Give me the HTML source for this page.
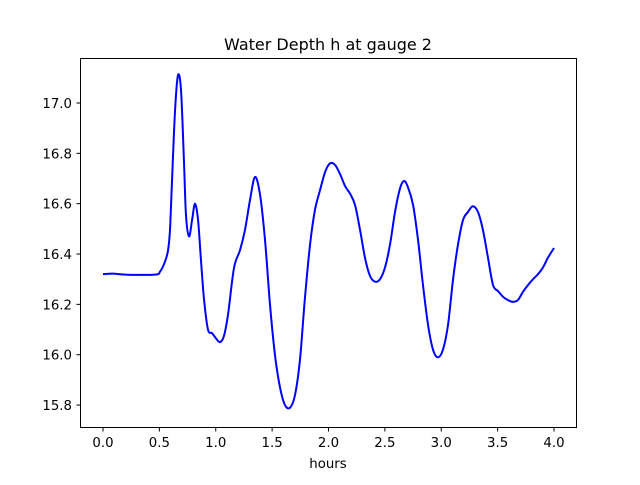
<!DOCTYPE html>
<html><head><meta charset="utf-8"><style>
body{margin:0;background:#fff}
svg text{font-family:"DejaVu Sans","Liberation Sans",sans-serif;fill:#000}
</style></head><body>
<svg id="chart" width="640" height="480" viewBox="0 0 640 480" xmlns="http://www.w3.org/2000/svg">
<rect width="640" height="480" fill="#fff"/>
<text x="328" y="50" font-size="16" text-anchor="middle">Water Depth h at gauge 2</text>
<g id="ticks"></g>
<path id="series" fill="none" stroke="#0000ff" stroke-width="2" stroke-linejoin="round"/>
<rect x="80.5" y="58.5" width="496" height="369" fill="none" stroke="#000" stroke-width="1"/>
<text x="328" y="468" font-size="13.3" text-anchor="middle">hours</text>
</svg>
<script>
const hours=[0,0.09,0.2,0.46,0.506,0.55,0.577,0.594,0.612,0.639,0.665,0.692,0.718,0.736,0.763,0.79,0.816,0.843,0.869,0.896,0.931,0.967,1.0,1.038,1.073,1.109,1.162,1.215,1.259,1.304,1.348,1.393,1.437,1.481,1.525,1.57,1.614,1.66,1.703,1.747,1.79,1.836,1.88,1.925,1.97,2.013,2.058,2.102,2.147,2.191,2.235,2.28,2.324,2.368,2.413,2.457,2.5,2.545,2.59,2.634,2.67,2.705,2.75,2.794,2.838,2.883,2.927,2.97,3.015,3.06,3.104,3.148,3.193,3.237,3.28,3.326,3.37,3.415,3.459,3.503,3.548,3.592,3.636,3.68,3.725,3.77,3.814,3.858,3.9,3.946,4.0];
const depth=[16.32,16.322,16.318,16.318,16.33,16.37,16.415,16.495,16.69,16.97,17.11,17.05,16.77,16.555,16.47,16.535,16.6,16.535,16.375,16.22,16.1,16.086,16.066,16.05,16.075,16.16,16.345,16.415,16.495,16.615,16.706,16.635,16.455,16.2,16.0,15.87,15.8,15.79,15.84,15.98,16.22,16.436,16.575,16.654,16.726,16.76,16.754,16.718,16.67,16.64,16.595,16.495,16.384,16.313,16.29,16.3,16.345,16.436,16.567,16.66,16.69,16.665,16.595,16.456,16.277,16.118,16.02,15.99,16.02,16.118,16.297,16.436,16.535,16.567,16.59,16.567,16.495,16.384,16.277,16.253,16.23,16.217,16.21,16.217,16.25,16.277,16.3,16.32,16.345,16.385,16.424];
const xTicks=[0,0.5,1,1.5,2,2.5,3,3.5,4];
const xTickLabels=["0.0","0.5","1.0","1.5","2.0","2.5","3.0","3.5","4.0"];
const yTicks=[15.8,16.0,16.2,16.4,16.6,16.8,17.0];
const yTickLabels=["15.8","16.0","16.2","16.4","16.6","16.8","17.0"];

function xs(t){return 103+t*112.75;}
function ys(h){return 103+(17-h)*251.7;}
const NS="http://www.w3.org/2000/svg";
const g=document.getElementById('ticks');
xTicks.forEach((t,i)=>{
  const l=document.createElementNS(NS,'line');
  
  
  l.setAttribute('x1',xs(t));l.setAttribute('x2',xs(t));l.setAttribute('y1',427.5);l.setAttribute('y2',431.5);l.setAttribute('stroke','#000');
  g.appendChild(l);
  const tx=document.createElementNS(NS,'text');
  
  
  tx.setAttribute('x',xs(t));tx.setAttribute('y',447);tx.setAttribute('font-size','13.3');tx.setAttribute('text-anchor','middle');
  tx.textContent=xTickLabels[i];g.appendChild(tx);
});
yTicks.forEach((h,i)=>{
  const l=document.createElementNS(NS,'line');
  
  
  l.setAttribute('x1',76.5);l.setAttribute('x2',80.5);l.setAttribute('y1',ys(h));l.setAttribute('y2',ys(h));l.setAttribute('stroke','#000');
  g.appendChild(l);
  const tx=document.createElementNS(NS,'text');
  
  
  tx.setAttribute('x',72);tx.setAttribute('y',ys(h)+5);tx.setAttribute('font-size','13.3');tx.setAttribute('text-anchor','end');
  tx.textContent=yTickLabels[i];g.appendChild(tx);
});
const P=hours.map((t,i)=>[xs(t),ys(depth[i])]);
let d='M'+P[0][0]+','+P[0][1];
for(let i=0;i<P.length-1;i++){
  const p0=P[Math.max(0,i-1)],p1=P[i],p2=P[i+1],p3=P[Math.min(P.length-1,i+2)];
  const c1=[p1[0]+(p2[0]-p0[0])/6,p1[1]+(p2[1]-p0[1])/6];
  const c2=[p2[0]-(p3[0]-p1[0])/6,p2[1]-(p3[1]-p1[1])/6];
  d+=` C${c1[0]},${c1[1]} ${c2[0]},${c2[1]} ${p2[0]},${p2[1]}`;
}
document.getElementById('series').setAttribute('d',d);
</script>
</body></html>
